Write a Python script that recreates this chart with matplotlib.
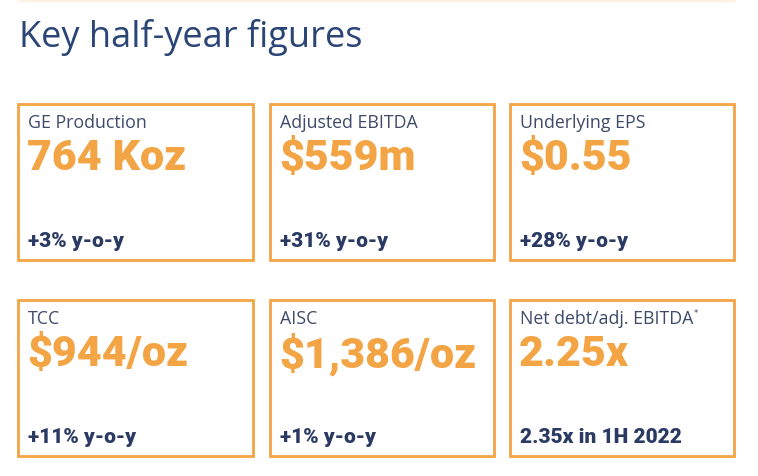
import matplotlib
matplotlib.use("Agg")
import matplotlib.pyplot as plt
from matplotlib.patches import Rectangle

W, H = 758, 477

title = "Key half-year figures"
labels  = ["GE Production", "Adjusted EBITDA", "Underlying EPS",
           "TCC", "AISC", "Net debt/adj. EBITDA"]
values  = ["764 Koz", "$559m", "$0.55", "$944/oz", "$1,386/oz", "2.25x"]
changes = ["+3% y-o-y", "+31% y-o-y", "+28% y-o-y",
           "+11% y-o-y", "+1% y-o-y", "2.35x in 1H 2022"]
footnote = [False, False, False, False, False, True]

ORANGE = "#f3a545"
NAVY = "#2a3a63"
GREY = "#3e4a68"
TITLE_C = "#2b4577"

col_x = [18, 270, 510]
col_w = [235, 224, 224]
row_y = [105, 301]
box_h = 156

fig = plt.figure(figsize=(W / 100, H / 100), dpi=100)
ax = fig.add_axes([0, 0, 1, 1])
ax.set_xlim(0, W)
ax.set_ylim(H, 0)
ax.axis("off")

# faint rule at the very top
ax.plot([18, 735], [1, 1], color="#fcf1e2", lw=2.5, solid_capstyle="butt")

ax.text(19, 38, title, fontsize=26, color=TITLE_C, va="center", ha="left",
        family=["Open Sans", "DejaVu Sans"])

for i, (lab, val, chg) in enumerate(zip(labels, values, changes)):
    r, c = divmod(i, 3)
    x0, y0 = col_x[c], row_y[r]
    ax.add_patch(Rectangle((x0, y0), col_w[c], box_h, fill=False,
                           ec=ORANGE, lw=2.0))
    t = ax.text(x0 + 10, y0 + 18, lab, fontsize=12.8, color=GREY,
                va="center", ha="left", family=["Open Sans", "DejaVu Sans"])
    if footnote[i]:
        ax.annotate("*", xy=(1, 1), xycoords=t, xytext=(0.5, 1),
                    textcoords="offset points", fontsize=6, color=GREY,
                    va="top", ha="left")
    ax.text(x0 + 9, y0 + 54, val, fontsize=31, color=ORANGE, va="center",
            ha="left", family=["Roboto", "DejaVu Sans"], weight="black")
    ax.text(x0 + 10, y0 + 137, chg, fontsize=15, color=NAVY, va="center",
            ha="left", family=["Roboto", "DejaVu Sans"], weight="black")

fig.savefig("out.png", dpi=100, facecolor="white")
